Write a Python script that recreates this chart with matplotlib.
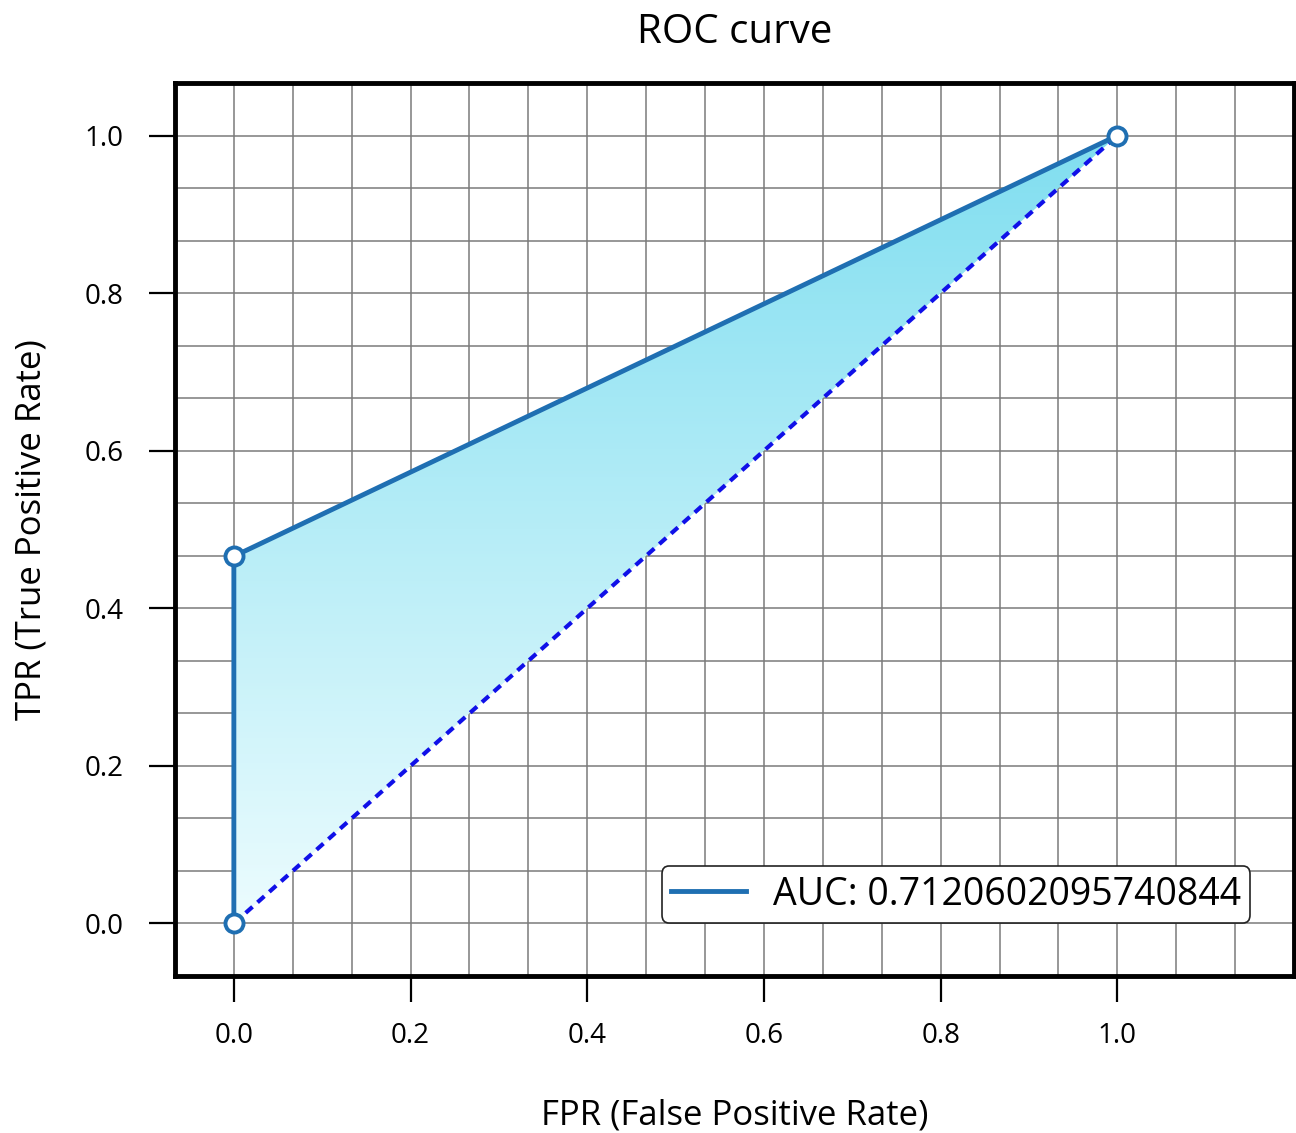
import matplotlib
matplotlib.use("Agg")
import matplotlib.pyplot as plt
import numpy as np
from matplotlib.patches import Polygon
from matplotlib.colors import LinearSegmentedColormap

fpr = [0.0, 0.0, 1.0]
tpr = [0.0, 0.466, 1.0]
auc_value = 0.7120602095740844
ticks = [0.0, 0.2, 0.4, 0.6, 0.8, 1.0]
tick_labels = ["0.0", "0.2", "0.4", "0.6", "0.8", "1.0"]

plt.rcParams["font.family"] = ["Open Sans", "DejaVu Sans"]

fig = plt.figure(figsize=(12.96, 11.33), dpi=100)
ax = fig.add_axes([0.135, 0.1386, 0.8635, 0.7881])

step = 1 / 15
ax.set_xlim(-step, 1.2)
ax.set_ylim(-step, 1 + step)

# fine grid every 1/15
for v in np.arange(0, 1.21, step):
    ax.axvline(v, color="#7a7a7a", lw=1.1, zorder=0)
for v in np.arange(0, 1.01, step):
    ax.axhline(v, color="#7a7a7a", lw=1.1, zorder=0)

# gradient fill between the curve and the chance diagonal
cmap = LinearSegmentedColormap.from_list("roc_fill", ["#ecfcfe", "#80def0"])
grad = np.linspace(0, 1, 256).reshape(-1, 1)
img = ax.imshow(grad, cmap=cmap, origin="lower", extent=[0, 1, 0, 1],
                aspect="auto", zorder=1)
poly = Polygon(list(zip(fpr, tpr)), closed=True, transform=ax.transData,
               facecolor="none", edgecolor="none")
ax.add_patch(poly)
img.set_clip_path(poly)

ax.plot([0, 1], [0, 1], color="#1010e8", lw=3, ls=(0, (2.2, 1.6)), zorder=2)
ax.plot(fpr, tpr, color="#1f6fb2", lw=3.5, zorder=3,
        label=f"AUC: {auc_value}")
ax.plot(fpr, tpr, ls="none", marker="o", ms=13, mfc="white", mec="#1f6fb2",
        mew=2.8, zorder=4)

ax.set_xticks(ticks)
ax.set_xticklabels(tick_labels)
ax.set_yticks(ticks)
ax.set_yticklabels(tick_labels)
ax.tick_params(axis="both", labelsize=20, length=19, width=1.6, direction="out")
ax.tick_params(axis="x", pad=14)
ax.tick_params(axis="y", pad=18)

for spine in ax.spines.values():
    spine.set_linewidth(3.5)

ax.set_title("ROC curve", fontsize=29, pad=29)
ax.set_xlabel("FPR (False Positive Rate)", fontsize=25, labelpad=35)
ax.set_ylabel("TPR (True Positive Rate)", fontsize=25, labelpad=26)

leg = ax.legend(loc="lower right", bbox_to_anchor=(0.9607, 0.0594),
                fontsize=27, frameon=True, fancybox=True, framealpha=1,
                edgecolor="#222222", handlelength=2.0, handletextpad=0.7,
                borderpad=0.25, borderaxespad=0)
leg.get_frame().set_linewidth(1.2)

fig.savefig("out.png", dpi=100)
